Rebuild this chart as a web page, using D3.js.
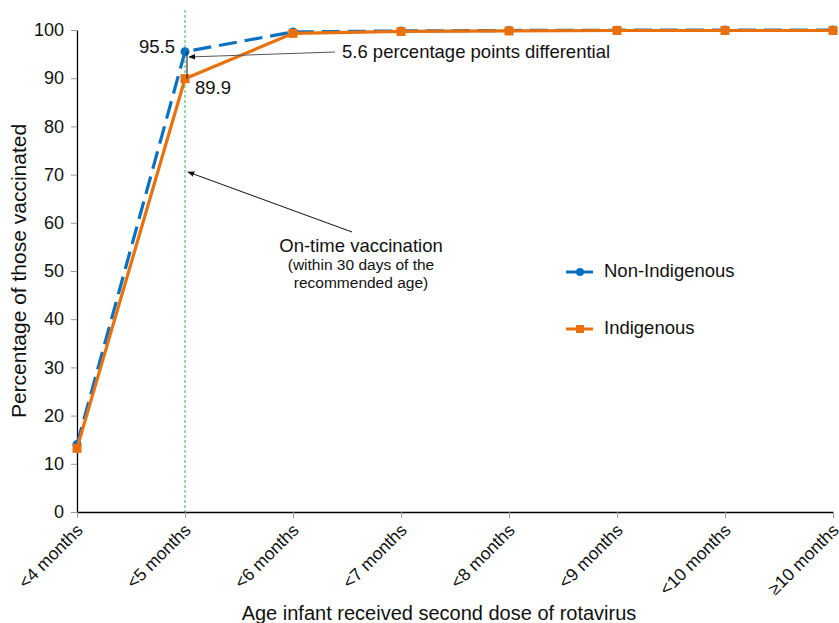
<!DOCTYPE html>
<html><head><meta charset="utf-8">
<script src="https://cdn.jsdelivr.net/npm/d3@7"></script>
<style>body{margin:0;background:#fff;} text{font-family:"Liberation Sans",Arial,sans-serif;fill:#111;}</style>
</head><body>
<svg id="c" width="839" height="623"></svg>
<script>
const categories = ["<4 months","<5 months","<6 months","<7 months","<8 months","<9 months","<10 months","≥10 months"];
const nonIndigenous = [14.0, 95.5, 99.6, 99.8, 99.9, 99.95, 100, 100];
const indigenous = [13.2, 89.9, 99.3, 99.7, 99.8, 99.9, 99.9, 99.9];
const yTicks = [0,10,20,30,40,50,60,70,80,90,100];

const svg = d3.select("#c");
const x = d3.scalePoint().domain(categories).range([77, 833]);
const y = d3.scaleLinear().domain([0,100]).range([512, 30]);
const blue = "#0a70c0", orange = "#e8700f";
const FF = "Liberation Sans, Arial, sans-serif";

svg.append("defs").append("marker").attr("id","arr").attr("viewBox","0 0 10 10")
  .attr("refX",9).attr("refY",5).attr("markerWidth",7).attr("markerHeight",7).attr("orient","auto")
  .append("path").attr("d","M0,1 L10,5 L0,9 z").attr("fill","#111");

// green vertical dotted line
svg.append("line").attr("x1",x("<5 months")).attr("x2",x("<5 months")).attr("y1",10).attr("y2",y(0))
  .attr("stroke","#22bb55").attr("stroke-width",1).attr("stroke-dasharray","3,2");

// axes
const yAxis = d3.axisLeft(y).tickValues(yTicks).tickSize(6).tickSizeOuter(0);
const gy = svg.append("g").attr("transform","translate(77,0)").call(yAxis);
gy.select(".domain").attr("stroke","#000").attr("stroke-width",1.3);
gy.selectAll(".tick line").attr("stroke","#999");
gy.selectAll(".tick text").attr("font-size",18).attr("x",-13).style("font-family",FF).attr("fill","#111");

const xAxis = d3.axisBottom(x).tickSize(6).tickSizeOuter(0);
const gx = svg.append("g").attr("transform","translate(0,512)").call(xAxis);
gx.select(".domain").attr("stroke","#000").attr("stroke-width",1.6);
gx.selectAll(".tick line").attr("stroke","#999");
gx.selectAll(".tick text").attr("font-size",17.5).attr("text-anchor","end")
  .attr("x",0).attr("y",0).attr("dy","0.35em")
  .attr("transform","translate(2,15) rotate(-45)")
  .style("font-family",FF).attr("fill","#111");

// lines
const line = d3.line().x((d,i)=>x(categories[i])).y(d=>y(d));
svg.append("path").datum(nonIndigenous).attr("d",line).attr("fill","none")
  .attr("stroke",blue).attr("stroke-width",3.2).attr("stroke-dasharray","18,8");
svg.selectAll(".pb").data(nonIndigenous).enter().append("circle")
  .attr("cx",(d,i)=>x(categories[i])).attr("cy",d=>y(d)).attr("r",4.5).attr("fill",blue);
svg.append("path").datum(indigenous).attr("d",line).attr("fill","none")
  .attr("stroke",orange).attr("stroke-width",3.2);
svg.selectAll(".po").data(indigenous).enter().append("rect")
  .attr("x",(d,i)=>x(categories[i])-4.5).attr("y",d=>y(d)-4.5).attr("width",9).attr("height",9).attr("fill",orange);

// differential bar
svg.append("line").attr("x1",x("<5 months")+2).attr("x2",x("<5 months")+2)
  .attr("y1",y(nonIndigenous[1])).attr("y2",y(indigenous[1])).attr("stroke","#111").attr("stroke-width",1);

// value labels
svg.append("text").attr("x",175).attr("y",53).attr("text-anchor","end").attr("font-size",18.5).text(nonIndigenous[1].toFixed(1));
svg.append("text").attr("x",195).attr("y",94).attr("font-size",18.5).text(indigenous[1].toFixed(1));

// annotation 1
svg.append("line").attr("x1",335).attr("y1",52).attr("x2",x("<5 months")+4).attr("y2",57)
  .attr("stroke","#555").attr("stroke-width",1).attr("marker-end","url(#arr)");
svg.append("text").attr("x",342).attr("y",58).attr("font-size",18.5).text("5.6 percentage points differential");

// annotation 2
svg.append("line").attr("x1",352).attr("y1",232).attr("x2",x("<5 months")+3).attr("y2",172)
  .attr("stroke","#111").attr("stroke-width",1).attr("marker-end","url(#arr)");
svg.append("text").attr("x",361).attr("y",252).attr("text-anchor","middle").attr("font-size",18.5).text("On-time vaccination");
svg.append("text").attr("x",361).attr("y",270).attr("text-anchor","middle").attr("font-size",15.5).text("(within 30 days of the");
svg.append("text").attr("x",361).attr("y",288).attr("text-anchor","middle").attr("font-size",15.5).text("recommended age)");

// legend
const lg = [{name:"Non-Indigenous",c:blue,shape:"c",y:272},{name:"Indigenous",c:orange,shape:"s",y:329}];
lg.forEach(l=>{
  svg.append("line").attr("x1",566).attr("x2",593).attr("y1",l.y).attr("y2",l.y).attr("stroke",l.c).attr("stroke-width",3);
  if(l.shape==="c") svg.append("circle").attr("cx",580).attr("cy",l.y).attr("r",4).attr("fill",l.c);
  else svg.append("rect").attr("x",576).attr("y",l.y-4).attr("width",8).attr("height",8).attr("fill",l.c);
  svg.append("text").attr("x",604).attr("y",l.y+5).attr("font-size",18.5).text(l.name);
});

// axis titles
svg.append("text").attr("x",439).attr("y",620).attr("text-anchor","middle").attr("font-size",20).text("Age infant received second dose of rotavirus");
svg.append("text").attr("transform","translate(26,271) rotate(-90)").attr("text-anchor","middle").attr("font-size",21).text("Percentage of those vaccinated");
</script>
</body></html>
